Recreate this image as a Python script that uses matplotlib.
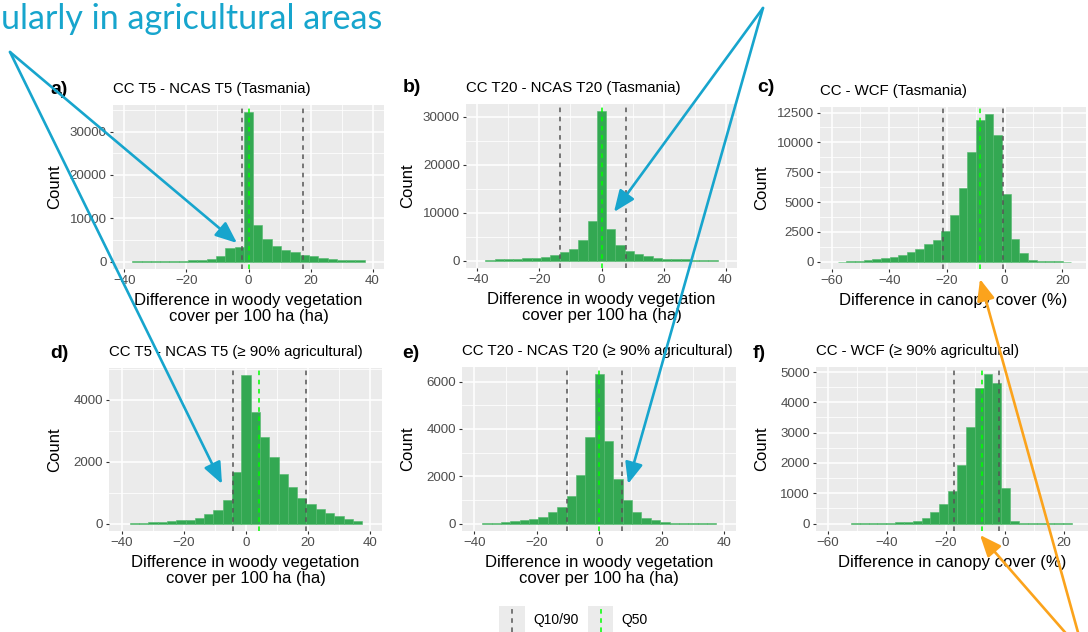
import numpy as np
import matplotlib
matplotlib.use("Agg")
import matplotlib.pyplot as plt
from matplotlib.ticker import MultipleLocator, AutoMinorLocator

plt.rcParams['font.family'] = ['Liberation Sans', 'DejaVu Sans']

W, H = 1088, 632

# bin edges
woody_edges = [-37.5, -34.5, -31.5, -28.5, -25.5, -22.5, -19.5, -16.5, -13.5, -10.5, -7.5, -4.5, -1.5,
               1.5, 4.5, 7.5, 10.5, 13.5, 16.5, 19.5, 22.5, 25.5, 28.5, 31.5, 34.5, 37.5]
canopy_edges_c = [-57.9, -54.9, -51.9, -48.9, -45.9, -42.9, -39.9, -36.9, -33.9, -30.9, -27.9, -24.9, -21.9,
                  -18.9, -15.9, -12.9, -9.9, -6.9, -3.9, -0.9, 2.1, 5.1, 8.1, 11.1, 14.1, 17.1, 20.1, 23.1]
canopy_edges_f = [-52.2, -49.2, -46.2, -43.2, -40.2, -37.2, -34.2, -31.2, -28.2, -25.2, -22.2, -19.2, -16.2,
                  -13.2, -10.2, -7.2, -4.2, -1.2, 1.8, 4.8, 7.8, 10.8, 13.8, 16.8, 19.8, 22.8]

# counts per bin
counts_a = [50, 70, 100, 130, 170, 230, 320, 450, 700, 1200, 3100, 3300, 34400,
            8500, 5300, 3700, 2600, 2100, 1500, 1200, 850, 600, 450, 350, 250]
counts_b = [200, 220, 300, 400, 500, 600, 800, 1100, 1700, 2500, 4200, 8300, 31100,
            6500, 3300, 2000, 1300, 850, 550, 400, 300, 250, 200, 150, 100]
counts_c = [10, 30, 60, 120, 180, 280, 400, 550, 800, 1100, 1450, 1800, 2600, 3900,
            6150, 9200, 11850, 12350, 10650, 5700, 1900, 700, 170, 60, 30, 20, 10]
counts_d = [20, 30, 40, 50, 75, 100, 130, 190, 300, 430, 770, 1660, 4790,
            3600, 2800, 2150, 1600, 1180, 840, 640, 480, 340, 240, 150, 90]
counts_e = [30, 40, 70, 90, 130, 200, 270, 500, 720, 1170, 2040, 3650, 6300,
            3500, 1870, 990, 480, 250, 130, 60, 30, 20, 15, 10, 10]
counts_f = [8, 10, 15, 20, 25, 40, 60, 100, 190, 370, 660, 1060, 1930, 3190,
            4460, 4920, 4650, 1160, 70, 15, 10, 5, 3, 3, 3]

# quantiles (Q10, Q90, Q50)
q10 = [-2.2, -13.3, -21.4, -4.1, -10.5, -17.1]
q90 = [17.5, 7.9, -0.7, 19.5, 7.2, -2.1]
q50 = [0.3, 0.0, -8.4, 4.1, -0.2, -7.8]

titles = ['CC T5 - NCAS T5 (Tasmania)', 'CC T20 - NCAS T20 (Tasmania)', 'CC - WCF (Tasmania)',
          'CC T5 - NCAS T5 (\u2265 90% agricultural)', 'CC T20 - NCAS T20 (\u2265 90% agricultural)',
          'CC - WCF (\u2265 90% agricultural)']
tags = ['a)', 'b)', 'c)', 'd)', 'e)', 'f)']
woody_label = 'Difference in woody vegetation\ncover per 100 ha (ha)'
canopy_label = 'Difference in canopy cover (%)'

bar_green = '#33a852'
cyan = '#17a5cd'
orange = '#fba31c'

fig = plt.figure(figsize=(W / 100, H / 100), dpi=100)


def px_axes(l, t, r, b):
    return fig.add_axes([l / W, 1 - b / H, (r - l) / W, (b - t) / H])


def panel(box, tag, tagpos, title, edges, counts, lo, hi, mid, xlim, ystep, xlabel, county):
    l, t, r, b = box
    ax = px_axes(l, t, r, b)
    ax.set_facecolor('#EBEBEB')
    ax.bar(edges[:-1], counts, width=np.diff(edges), align='edge', color=bar_green,
           edgecolor='#52b86c', linewidth=0.4, zorder=2)
    for q in (lo, hi):
        ax.axvline(q, color='#555555', lw=1.1, ls=(0, (3, 3)), zorder=3)
    ax.axvline(mid, color='#00ff00', lw=1.1, ls=(0, (3, 3)), zorder=3)
    ax.set_xlim(xlim)
    ymax = max(counts)
    ax.set_ylim(-0.05 * ymax, 1.05 * ymax)
    ax.xaxis.set_major_locator(MultipleLocator(20))
    ax.yaxis.set_major_locator(MultipleLocator(ystep))
    ax.xaxis.set_minor_locator(AutoMinorLocator(2))
    ax.yaxis.set_minor_locator(AutoMinorLocator(2))
    ax.grid(which='major', color='white', lw=1.1)
    ax.grid(which='minor', color='white', lw=0.55)
    ax.set_axisbelow(True)
    for s in ax.spines.values():
        s.set_visible(False)
    ax.tick_params(which='major', length=2.5, width=0.8, color='#333333', labelcolor='#4D4D4D',
                   labelsize=9.6, pad=2)
    ax.tick_params(which='minor', length=0)
    # titles, tags and axis titles placed like the ggplot layout
    fig.text(l / W, 1 - (t - 16) / H, title, fontsize=10.8, ha='left', va='center')
    fig.text(tagpos[0] / W, 1 - tagpos[1] / H, tag, fontsize=14, fontweight='bold', ha='left', va='center')
    nlines = xlabel.count('\n') + 1
    fig.text((l + r) / 2 / W, 1 - (b + 31 + 8.5 * (nlines - 1)) / H, xlabel, fontsize=12,
             ha='center', va='center', linespacing=1.05)
    fig.text(county / W, 1 - (t + b) / 2 / H, 'Count', fontsize=12, rotation=90, ha='center', va='center')
    return ax


panel((113, 105, 384, 269), tags[0], (50, 90), titles[0], woody_edges, counts_a, q10[0], q90[0], q50[0],
      (-43.7, 43.7), 10000, woody_label, 55)
panel((466, 104, 737, 268), tags[1], (403, 88), titles[1], woody_edges, counts_b, q10[1], q90[1], q50[1],
      (-43.7, 43.7), 10000, woody_label, 408)
panel((820, 107, 1086, 269), tags[2], (757, 88), titles[2], canopy_edges_c, counts_c, q10[2], q90[2], q50[2],
      (-64, 28.2), 2500, canopy_label, 762)
panel((109, 368, 382, 531), tags[3], (50, 353), titles[3], woody_edges, counts_d, q10[3], q90[3], q50[3],
      (-44.2, 43.9), 2000, woody_label, 55)
panel((462, 367, 736, 531), tags[4], (402, 353), titles[4], woody_edges, counts_e, q10[4], q90[4], q50[4],
      (-44, 43.8), 2000, woody_label, 408)
panel((816, 367, 1088, 531), tags[5], (753, 353), titles[5], canopy_edges_f, counts_f, q10[5], q90[5], q50[5],
      (-64, 28.2), 1000, canopy_label, 762)

# legend keys
for (kl, kr), col, lab in [((499, 525), '#555555', 'Q10/90'), ((588, 613), '#00ff00', 'Q50')]:
    kax = px_axes(kl, 606, kr, 632)
    kax.set_facecolor('#EBEBEB')
    kax.set_xlim(0, 1)
    kax.set_ylim(0, 1)
    kax.axvline(0.5, color=col, lw=1.1, ls=(0, (3, 3)))
    kax.set_xticks([])
    kax.set_yticks([])
    for s in kax.spines.values():
        s.set_visible(False)
    fig.text((kr + 8) / W, 1 - 620 / H, lab, fontsize=10, ha='left', va='center')

# overlay with the slide annotations
ov = fig.add_axes([0, 0, 1, 1], zorder=10)
ov.set_xlim(0, W)
ov.set_ylim(H, 0)
ov.axis('off')
ov.patch.set_alpha(0)
ov.text(1, 19, 'ularly in agricultural areas', color=cyan, fontsize=24.5, family='Lato',
        ha='left', va='center')

arrows = [((10, 52), (237, 243), cyan), ((10, 52), (222, 484), cyan),
          ((763, 8), (614, 212), cyan), ((763, 8), (628, 484), cyan),
          ((1084, 654), (980, 279), orange), ((1084, 654), (980, 535), orange)]
for start, end, col in arrows:
    ov.annotate('', xy=end, xytext=start, annotation_clip=False,
                arrowprops=dict(arrowstyle='-|>,head_length=0.65,head_width=0.27', color=col,
                                lw=1.9, mutation_scale=20, shrinkA=0, shrinkB=0))

plt.savefig('out.png', dpi=100)
